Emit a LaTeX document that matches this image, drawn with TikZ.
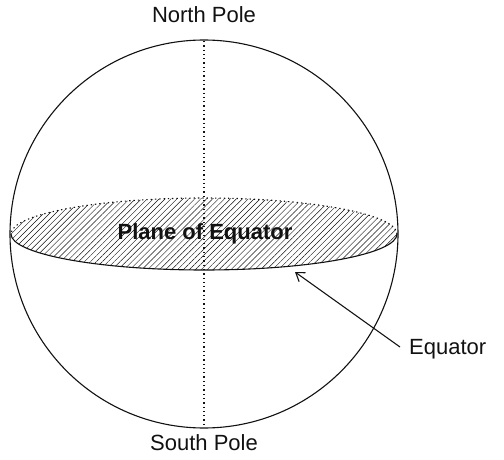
\documentclass[tikz,border=0pt]{standalone}
\usepackage{fontspec}
\setmainfont{Liberation Sans}
\usetikzlibrary{arrows.meta, positioning, calc, patterns.meta}
\definecolor{inkblack}{HTML}{111111}

\begin{document}
\begin{tikzpicture}[
  x=1pt, y=1pt,
  >={Straight Barb[length=8pt, width=11pt, line width=1.1pt]},
  polelbl/.style={font=\fontsize{22}{24}\selectfont, text=inkblack, inner sep=1pt},
  outline/.style={line width=1.1pt, draw=inkblack},
  axisline/.style={line width=1.1pt, draw=inkblack, dash pattern=on 1.3pt off 3pt},
]

% Page frame
\useasboundingbox (0,0) rectangle (504,459);

% Sphere and plane
\coordinate (c) at (204,225);
\coordinate (np) at (204,418);
\coordinate (sp) at (204,32);

\fill[pattern={Lines[angle=45, distance=4.2pt, line width=0.45pt]}, pattern color=inkblack]
  (c) ellipse [x radius=193, y radius=36];
\draw[axisline] ($(c)+(193,0)$) arc[start angle=0, end angle=180, x radius=193, y radius=36];
\draw[outline] ($(c)+(-193,0)$) arc[start angle=180, end angle=360, x radius=193, y radius=36];
\draw[outline] (c) circle[radius=194];

% Polar axis
\draw[axisline] (np) -- (sp);

% Labels
\node[polelbl] (north) at (204,444) {North Pole};
\node[polelbl] (south) at (204,16) {South Pole};
\node[polelbl, font=\fontsize{22}{24}\selectfont\bfseries] (plane) at (205,225) {Plane of Equator};

% Equator pointer
\coordinate (eqpt) at ($(c)+(91,-38)$);
\node[polelbl, anchor=west] (eqlbl) at (408,110) {Equator};
\draw[->, line width=1.1pt, inkblack] ($(eqlbl.west)+(-8,2)$) -- (eqpt);

\end{tikzpicture}
\end{document}
